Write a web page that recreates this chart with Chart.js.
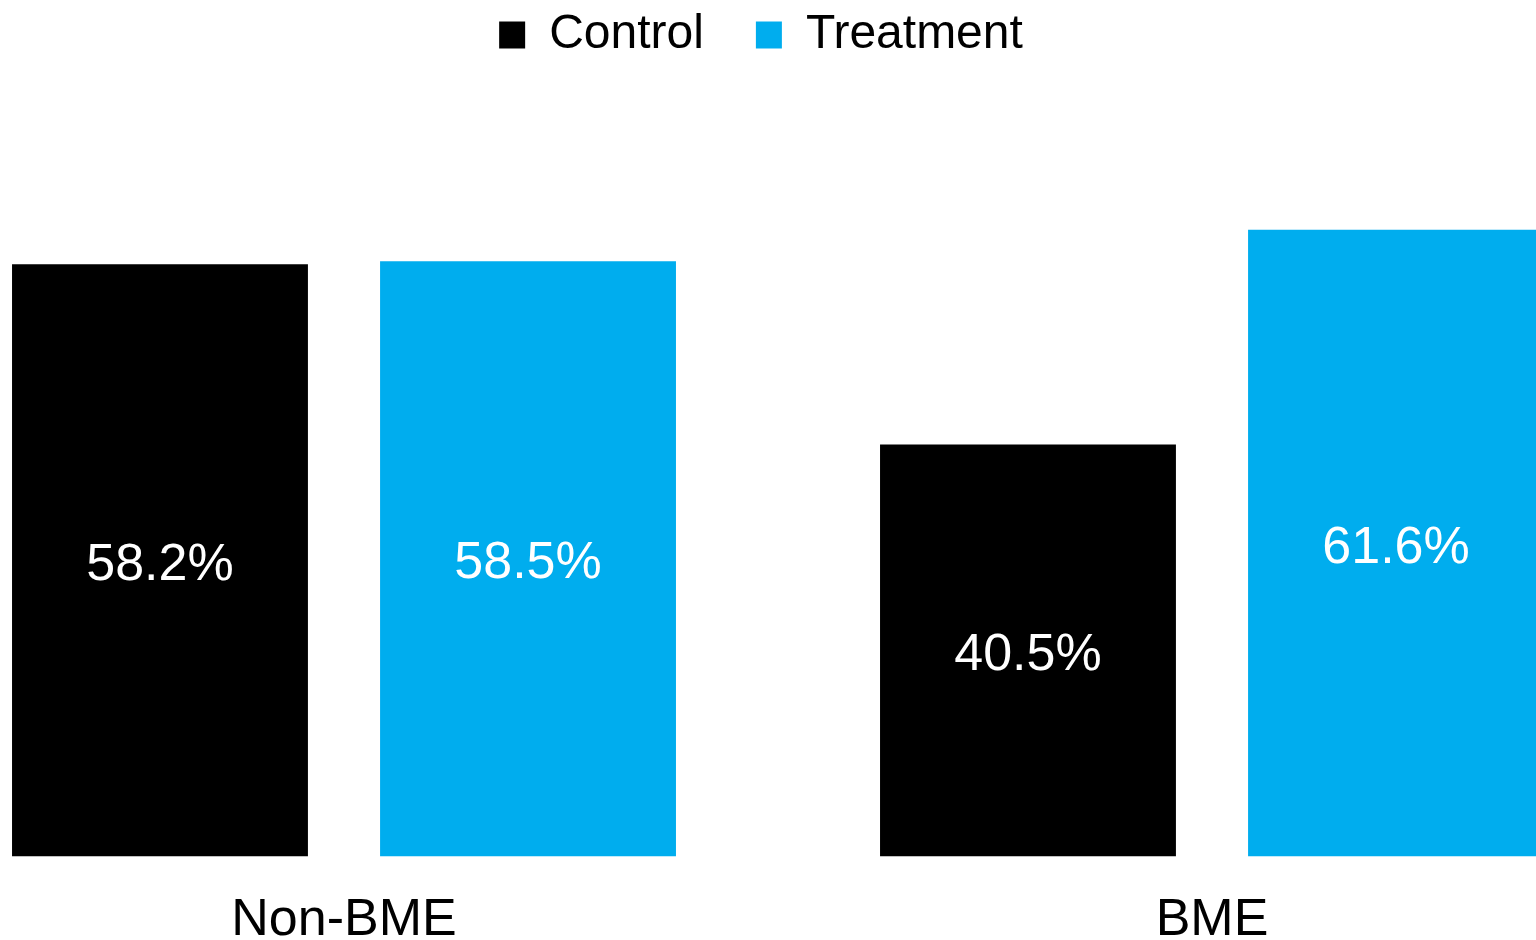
<!DOCTYPE html>
<html>
<head>
<meta charset="utf-8">
<script src="https://cdn.jsdelivr.net/npm/chart.js@4"></script>
<style>
    html, body { margin: 0; padding: 0; background: #fff; overflow: hidden; }
    #wrap { position: absolute; left: -124px; top: 0; width: 1770px; height: 977px; }
</style>
</head>
<body>
<div id="wrap"><canvas id="chart"></canvas></div>
<script>
const categories = ['Non-BME', 'BME'];
const controlValues = [58.2, 40.5];
const treatmentValues = [58.5, 61.6];

const FONT = '"Liberation Sans", Arial, sans-serif';
const BLACK = '#000000';
const BLUE = '#00ADEE';

// Etiquetas de valor en el centro de cada barra
const barValueLabels = {
    id: 'barValueLabels',
    afterDatasetsDraw: (chart) => {
        const ctx = chart.ctx;
        ctx.save();
        ctx.fillStyle = '#ffffff';
        ctx.font = `52px ${FONT}`;
        ctx.textAlign = 'center';
        ctx.textBaseline = 'middle';
        chart.data.datasets.forEach((ds, i) => {
            chart.getDatasetMeta(i).data.forEach((bar, j) => {
                const y = (bar.y + bar.base) / 2 + 5;
                ctx.fillText(ds.data[j].toFixed(1) + '%', bar.x, y);
            });
        });
        ctx.restore();
    }
};

const config = {
    type: 'bar',
    data: {
        labels: categories,
        datasets: [
            {
                label: 'Control',
                data: controlValues,
                backgroundColor: BLACK,
                borderWidth: 0,
                barPercentage: 0.804,
                categoryPercentage: 0.848
            },
            {
                label: 'Treatment',
                data: treatmentValues,
                backgroundColor: BLUE,
                borderWidth: 0,
                barPercentage: 0.804,
                categoryPercentage: 0.848
            }
        ]
    },
    options: {
        responsive: true,
        maintainAspectRatio: false,
        animation: false,
        layout: { padding: { top: -41, left: 0, right: 0, bottom: 0 } },
        plugins: {
            legend: {
                display: true,
                position: 'top',
                labels: {
                    color: '#000',
                    font: { family: FONT, size: 48 },
                    boxWidth: 26,
                    boxHeight: 27,
                    padding: 52
                }
            },
            tooltip: { enabled: false }
        },
        scales: {
            x: {
                grid: { display: false },
                border: { display: false },
                ticks: {
                    color: '#000',
                    font: { family: FONT, size: 52 },
                    padding: 25
                }
            },
            y: {
                min: 0,
                max: 77.4,
                grid: { display: false },
                border: { display: false },
                ticks: { display: false },
                afterFit: (scale) => { scale.width = 34; }
            }
        }
    },
    plugins: [barValueLabels]
};

new Chart(document.getElementById('chart'), config);
</script>
</body>
</html>
